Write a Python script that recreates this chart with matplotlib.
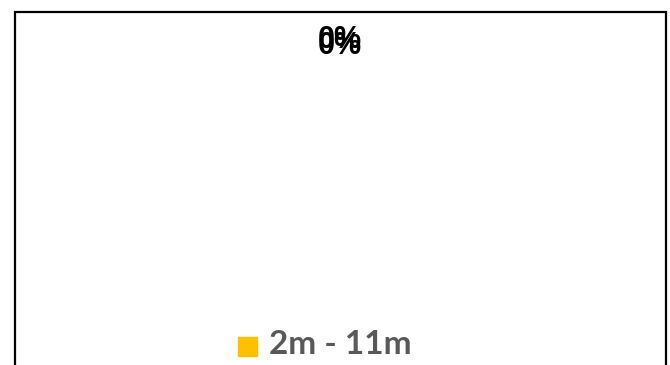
import matplotlib

matplotlib.use("Agg")
import matplotlib.pyplot as plt
from matplotlib.patches import Rectangle

# Series in the pie: both slices are empty, so only the labels remain.
categories = ["2m - 11m"]
values = [0, 0]
colors = ["#FFC000"]

total = sum(values)
labels = [f"{(v / total * 100 if total else 0):.0f}%" for v in values]

fig = plt.figure(figsize=(6.7, 3.65), dpi=100)
W, H = 670, 365

# chart frame, bottom edge runs off the canvas
fig.patches.append(Rectangle((15 / W, -0.05), 651 / W, 1.05 - 12 / H,
                             transform=fig.transFigure, fill=False,
                             edgecolor="black", linewidth=1.6))

# data labels of the zero-size wedges collapse onto nearly the same spot
for i, lab in enumerate(labels):
    fig.text(340 / W, 1 - (40 + 6 * i) / H, lab, ha="center", va="center",
             fontsize=22, fontweight="bold", family="Liberation Sans",
             color="black")

# legend
for i, (cat, col) in enumerate(zip(categories, colors)):
    fig.patches.append(Rectangle((238 / W, 1 - 356 / H), 19 / W, 19 / H,
                                 transform=fig.transFigure, color=col))
    fig.text(269 / W, 1 - 344 / H, cat, ha="left", va="center",
             fontsize=24, fontweight="bold", family="Lato", color="#595959")

fig.savefig("out.png", dpi=100)
